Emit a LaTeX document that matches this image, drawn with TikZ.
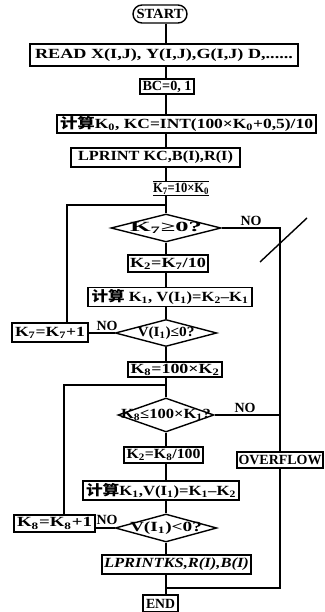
\documentclass[tikz,border=0pt]{standalone}
\usepackage{graphicx}
\usepackage{fontspec}
\setmainfont{Liberation Serif}
\newfontfamily\cjk{Noto Sans CJK SC}
\usetikzlibrary{shapes.geometric}
\newcommand{\ks}[1]{\textsubscript{#1}}
\newsavebox\fitbox
\newcommand{\fitw}[2]{\sbox\fitbox{#2}\pgfmathsetmacro\fitr{#1/\the\wd\fitbox}\scalebox{\fitr}[1]{\usebox\fitbox}}
\newcommand{\zw}[2]{\makebox[0pt]{\fitw{#1}{#2}}}
\newcommand{\ftext}{\fontsize{14}{14}\selectfont\bfseries}
\begin{document}
\begin{tikzpicture}[x=1pt,y=-1pt,
  fbox/.style={draw, line width=1.4pt, inner sep=1pt, font=\ftext},
  fdia/.style={diamond, draw, line width=1.4pt, inner sep=0pt, aspect=8, font=\ftext},
  flow/.style={line width=1.4pt},
  lbl/.style={font=\ftext, inner sep=1pt}]
\useasboundingbox (0,0) rectangle (324,612);
\coordinate (mx) at (166,0);
\coordinate (rx) at (280,0);
\coordinate (lx1) at (67,0);
\coordinate (lx2) at (64,0);
\coordinate (j1) at (166,205);
\coordinate (j2) at (166,385);
\coordinate (j3) at (166,588);

\node[fbox, rounded corners=9pt, minimum width=54pt, minimum height=18pt] (start) at (160,14) {\zw{47}{START}};
\node[fbox, minimum width=268pt, minimum height=22pt] (read) at (164,55) {\zw{258}{READ X(I,J), Y(I,J),G(I,J) D,......}};
\node[fbox, minimum width=54pt, minimum height=15pt] (bc) at (167,86.5) {\zw{49}{BC=0, 1}};
\node[fbox, minimum width=259pt, minimum height=18pt] (kc) at (186.5,124) {\zw{253}{{\cjk 计算}K\ks{0}, KC=INT(100×K\ks{0}+0,5)/10}};
\node[fbox, minimum width=169pt, minimum height=19pt] (lp1) at (155.5,157.5) {\zw{155}{LPRINT KC,B(I),R(I)}};
\node[lbl, minimum width=56pt, minimum height=11pt] (k7) at (181,188.5) {\zw{56}{K\ks{7}=10×K\ks{0}}};
\draw[flow] (k7.north west) -- (k7.north east);
\draw[flow] (k7.south west) -- (k7.south east);

\node[fdia, minimum width=110pt, minimum height=28pt] (d1) at (166,228) {\zw{72}{K\ks{7}≥0?}};
\node[lbl] (no1) at (251,221) {NO};
\node[fbox, minimum width=80pt, minimum height=17pt] (k2a) at (168,263.5) {\zw{76}{K\ks{2}=K\ks{7}/10}};
\node[fbox, minimum width=164pt, minimum height=19pt] (c1) at (170,297) {\zw{157}{{\cjk 计算} K\ks{1}, V(I\ks{1})=K\ks{2}–K\ks{1}}};
\node[fdia, minimum width=101pt, minimum height=27pt] (d2) at (166,333) {\zw{57}{V(I\ks{1})≤0?}};
\node[fbox, minimum width=76pt, minimum height=19pt] (k7p) at (50,332.5) {\zw{70}{K\ks{7}=K\ks{7}+1}};
\node[lbl] (no2) at (107,326) {NO};
\node[fbox, minimum width=94pt, minimum height=15pt] (k8) at (175,369.5) {\zw{89}{K\ks{8}=100×K\ks{2}}};

\node[fdia, minimum width=96pt, minimum height=34pt] (d3) at (166,415) {\zw{90}{K\ks{8}≤100×K\ks{1}?}};
\node[lbl] (no3) at (245,408) {NO};
\node[fbox, minimum width=79pt, minimum height=16pt] (k2b) at (163.5,455) {\zw{74}{K\ks{2}=K\ks{8}/100}};
\node[fbox, minimum width=86pt, minimum height=16pt] (ovf) at (280,460) {\zw{83}{OVERFLOW}};
\node[fbox, minimum width=156pt, minimum height=19pt] (c2) at (161,490.5) {\zw{150}{{\cjk 计算}K\ks{1},V(I\ks{1})=K\ks{1}–K\ks{2}}};
\node[fdia, minimum width=101pt, minimum height=28pt] (d4) at (166,528) {\zw{72}{V(I\ks{1})<0?}};
\node[fbox, minimum width=81pt, minimum height=17pt] (k8p) at (54.5,523.5) {\zw{75}{K\ks{8}=K\ks{8}+1}};
\node[lbl] (no4) at (107,520) {NO};
\node[fbox, minimum width=149pt, minimum height=19pt] (lp2) at (176.5,564.5) {\zw{145}{\itshape LPRINTKS,R(I),B(I)}};
\node[fbox, minimum width=35pt, minimum height=17pt] (end) at (160.5,603.5) {\zw{29}{END}};

% main column
\draw[flow] (mx |- start.south) -- (mx |- read.north);
\draw[flow] (mx |- read.south) -- (mx |- bc.north);
\draw[flow] (mx |- bc.south) -- (mx |- kc.north);
\draw[flow] (mx |- kc.south) -- (mx |- lp1.north);
\draw[flow] (mx |- lp1.south) -- (mx |- k7.north);
\draw[flow] (mx |- k7.south) -- (j1) -- (d1.north);
\draw[flow] (d1.south) -- (mx |- k2a.north);
\draw[flow] (mx |- k2a.south) -- (mx |- c1.north);
\draw[flow] (mx |- c1.south) -- (d2.north);
\draw[flow] (d2.south) -- (mx |- k8.north);
\draw[flow] (mx |- k8.south) -- (j2) -- (d3.north);
\draw[flow] (d3.south) -- (mx |- k2b.north);
\draw[flow] (mx |- k2b.south) -- (mx |- c2.north);
\draw[flow] (mx |- c2.south) -- (d4.north);
\draw[flow] (d4.south) -- (mx |- lp2.north);
\draw[flow] (mx |- lp2.south) -- (j3) -- (mx |- end.north);

% NO branches
\draw[flow] (d1.east) -- (d1.east -| rx) -- (rx |- ovf.north);
\draw[flow] (d3.east) -- (d3.east -| rx);
\draw[flow] (rx |- ovf.south) -- (rx |- j3) -- (j3);
\draw[flow] (d2.west) -- (d2.west -| k7p.east);
\draw[flow] (lx1 |- k7p.north) -- (lx1 |- j1) -- (j1);
\draw[flow] (d4.west) -- (d4.west -| k8p.east);
\draw[flow] (lx2 |- k8p.north) -- (lx2 |- j2) -- (j2);

% pen stroke
\coordinate (s1) at (260,262);
\coordinate (s2) at (307,218);
\draw[line width=1.4pt] (s1) -- (s2);
\end{tikzpicture}
\end{document}
